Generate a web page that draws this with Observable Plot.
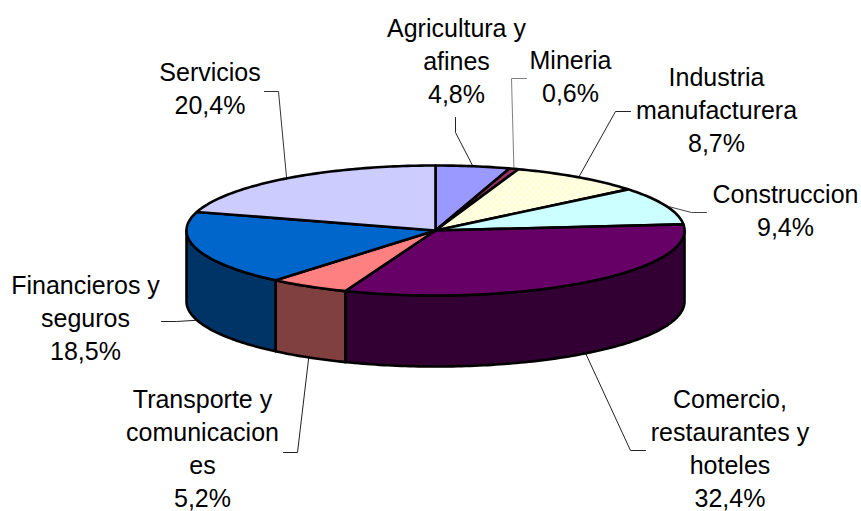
<!DOCTYPE html>
<html lang="es">
<head>
<meta charset="utf-8">
<title>Pie</title>
<script src="https://cdn.jsdelivr.net/npm/d3@7"></script>
<script src="https://cdn.jsdelivr.net/npm/@observablehq/plot@0.6"></script>
<style>
  html, body { margin: 0; padding: 0; background: #fff; }
  svg { display: block; }
</style>
</head>
<body>
<script>
// Data
const categories = ["Agricultura y\nafines", "Mineria", "Industria\nmanufacturera", "Construccion",
  "Comercio,\nrestaurantes y\nhoteles", "Transporte y\ncomunicacion\nes", "Financieros y\nseguros", "Servicios"];
const shares = [4.8, 0.6, 8.7, 9.4, 32.4, 5.2, 18.5, 20.4];

// Styles
const topColors = ["#9999FF", "#993366", "url(#checks)", "#CCFFFF", "#660066", "#FF8080", "#0066CC", "#CCCCFF"];
const wallColors = ["#4D4D80", "#4D1A33", "#808066", "#668080", "#330033", "#804040", "#003366", "#666680"];
const leaderColors = ["#222", "#808080", "#222", "#444", "#222", "#222", "#222", "#333"];

// Layout of the pie and of the labels
const W = 861, H = 511, cx = 435, cy = 230, rx = 249, ry = 65, depth = 71, fontSize = 25;
const labelX = [456, 570, 716, 785, 729.5, 202, 85, 209.5];
const labelBottom = [102, 101, 151, 235, 506, 506, 359, 113];
const elbowX = [455, 511, 615, 691, 630, 297, 176, 278];
const elbowY = [132, 78, 111, 212, 450, 452, 321, 91];
const stubX = [455, 526, 630, 706, 645, 283, 161, 264];
const stubY = [117, 78, 111, 212, 450, 452, 321, 91];

// Derived geometry
const pt = (t, dz = 0) => {
  const a = t * Math.PI / 180;
  return { x: cx + rx * Math.sin(a), y: cy - ry * Math.cos(a) + dz };
};
const arcAngles = (a, b) => {
  const out = [];
  for (let t = a; t < b; t += 1) out.push(t);
  out.push(b);
  return out;
};
const cum = d3.cumsum(shares);
const slices = shares.map((v, i) => ({ i, start: (cum[i] - v) * 3.6, end: cum[i] * 3.6 }));

const topPts = slices.flatMap(s => [
  { x: cx, y: cy },
  ...arcAngles(s.start, s.end).map(t => pt(t)),
  { x: cx, y: cy }
].map(p => ({ ...p, z: s.i, fill: topColors[s.i] })));

const wallPts = slices.filter(s => s.end > 90 && s.start < 270).flatMap(s => {
  const angles = arcAngles(Math.max(s.start, 90), Math.min(s.end, 270));
  const poly = [...angles.map(t => pt(t)), ...angles.slice().reverse().map(t => pt(t, depth))];
  poly.push(poly[0]);
  return poly.map(p => ({ ...p, z: s.i, fill: wallColors[s.i] }));
});

const leaderPts = slices.flatMap(s => {
  const mid = (s.start + s.end) / 2;
  const front = mid > 90 && mid < 270;
  return [{ x: stubX[s.i], y: stubY[s.i] }, { x: elbowX[s.i], y: elbowY[s.i] }, pt(mid, front ? depth : 0)]
    .map(p => ({ ...p, z: s.i, stroke: leaderColors[s.i] }));
});

const labels = categories.map((c, i) => ({
  text: c + "\n" + shares[i].toFixed(1).replace(".", ",") + "%",
  x: labelX[i],
  y: labelBottom[i]
}));

const defs = () => {
  const g = d3.create("svg:defs");
  const p = g.append("pattern").attr("id", "checks").attr("width", 6).attr("height", 6)
    .attr("patternUnits", "userSpaceOnUse");
  p.append("rect").attr("width", 6).attr("height", 6).attr("fill", "#FFFFCC");
  p.append("rect").attr("width", 3).attr("height", 3).attr("fill", "#FFFFF0");
  p.append("rect").attr("x", 3).attr("y", 3).attr("width", 3).attr("height", 3).attr("fill", "#FFFFF0");
  return g.node();
};

const chart = Plot.plot({
  width: W,
  height: H,
  margin: 0,
  style: { background: "#fff", fontFamily: "'Liberation Sans', Arial, sans-serif" },
  x: { domain: [0, W], range: [0, W], axis: null },
  y: { domain: [0, H], range: [0, H], axis: null },
  color: { type: "identity" },
  marks: [
    defs,
    Plot.line(leaderPts, { x: "x", y: "y", z: "z", stroke: "stroke", strokeWidth: 1, curve: "linear" }),
    Plot.line(wallPts, { x: "x", y: "y", z: "z", fill: "fill", stroke: "#000", strokeWidth: 2.6, strokeLinejoin: "round", curve: "linear" }),
    Plot.line(topPts, { x: "x", y: "y", z: "z", fill: "fill", stroke: "#000", strokeWidth: 2.6, strokeLinejoin: "round", curve: "linear" }),
    Plot.text(labels, { x: "x", y: "y", text: "text", fontSize, lineHeight: 32.8 / fontSize, lineAnchor: "bottom", textAnchor: "middle", fill: "#000" })
  ]
});
document.body.appendChild(chart);
</script>
</body>
</html>
